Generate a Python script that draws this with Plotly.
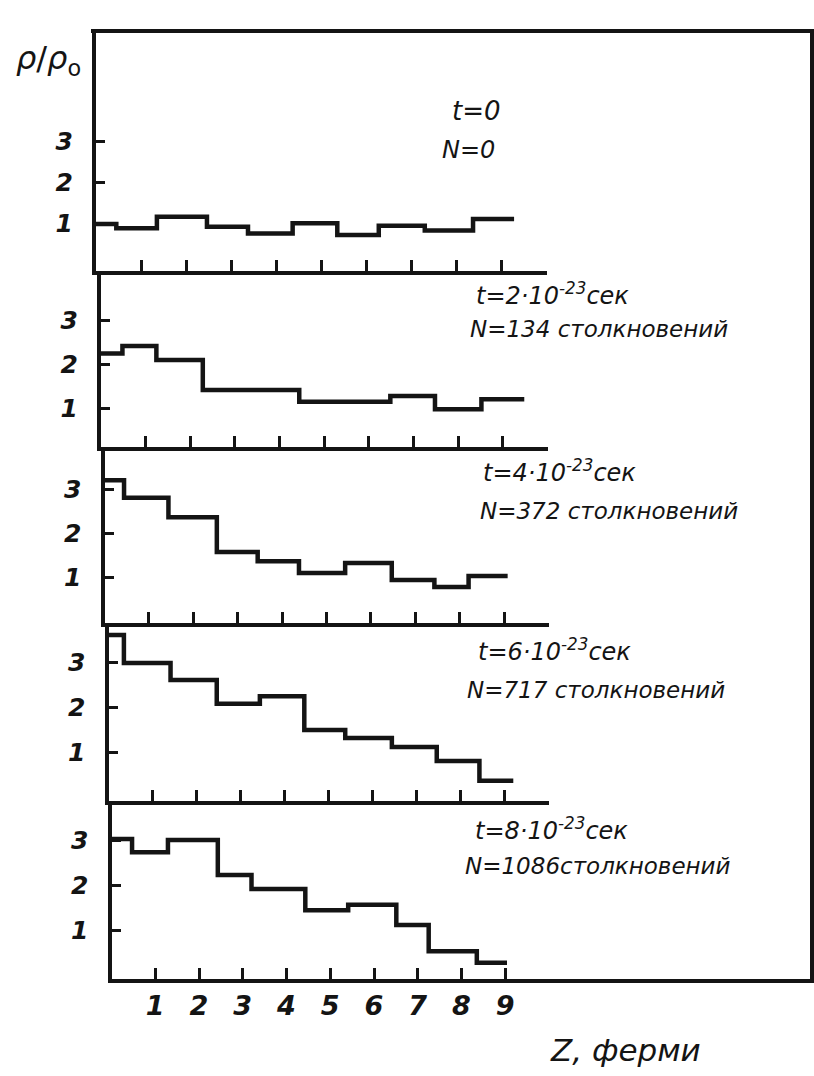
import plotly.graph_objects as go

# ---- data ----
z_edges_1 = [0, 0.45, 1.35, 2.46, 3.37, 4.36, 5.35, 6.27, 7.29, 8.36, 9.27]
rho_1 = [0.98, 0.875, 1.16, 0.91, 0.75, 1.0, 0.71, 0.94, 0.82, 1.10]

z_edges_2 = [0, 0.48, 1.24, 2.28, 4.44, 6.48, 7.48, 8.52, 9.48]
rho_2 = [2.24, 2.41, 2.09, 1.41, 1.14, 1.27, 0.97, 1.20]

z_edges_3 = [0, 0.44, 1.44, 2.53, 3.45, 4.38, 5.42, 6.47, 7.43, 8.2, 9.08]
rho_3 = [3.2, 2.8, 2.36, 1.57, 1.36, 1.09, 1.32, 0.93, 0.77, 1.02]

z_edges_4 = [0, 0.35, 1.41, 2.46, 3.44, 4.45, 5.38, 6.44, 7.46, 8.43, 9.2]
rho_4 = [3.6, 2.98, 2.6, 2.07, 2.24, 1.49, 1.31, 1.11, 0.8, 0.36]

z_edges_5 = [0, 0.47, 1.29, 2.43, 3.2, 4.43, 5.41, 6.51, 7.25, 8.35, 9.04]
rho_5 = [3.02, 2.73, 3.0, 2.22, 1.91, 1.44, 1.56, 1.11, 0.53, 0.27]

z_ticks = [1, 2, 3, 4, 5, 6, 7, 8, 9]
z_ticktext = ["1", "2", "3", "4", "5", "6", "7", "8", "9"]
rho_ticks = [1, 2, 3]
rho_ticktext = ["1", "2", "3"]

time_labels = ["t=0",
               "t=2·10<sup>-23</sup>сек",
               "t=4·10<sup>-23</sup>сек",
               "t=6·10<sup>-23</sup>сек",
               "t=8·10<sup>-23</sup>сек"]
n_labels = ["N=0",
            "N=134 столкновений",
            "N=372 столкновений",
            "N=717 столкновений",
            "N=1086столкновений"]
x_title = "Z, ферми"
y_title = "<i>ρ</i>/<i>ρ</i><sub>o</sub>"

edges = [z_edges_1, z_edges_2, z_edges_3, z_edges_4, z_edges_5]
values = [rho_1, rho_2, rho_3, rho_4, rho_5]

# ---- layout geometry (pixels) ----
W, H = 814, 1076
INK = "#141414"
FONT = "DejaVu Sans"

panel_px = [(33, 271), (271, 447), (447, 623), (623, 801), (801, 979)]
panel_y0 = [264, 452, 621, 797, 975]      # pixel row of rho = 0
panel_ppu = [40.8, 44, 44, 45, 45]        # pixels per rho unit
panel_x0 = [96, 101, 104.5, 108.5, 111.5]  # pixel column of z = 0
panel_xu = [45.1, 44.65, 44.4, 44.0, 43.75]  # pixels per fermi

t_pos = [(450, 111), (474, 294), (481, 471), (476, 650), (473, 829)]
n_pos = [(440, 150), (468, 329), (478, 511), (465, 690), (463, 866)]
t_size = [26, 24, 24, 24, 24]
n_size = [24, 23, 23, 23, 23]

fig = go.Figure()
layout = dict(
    width=W, height=H,
    margin=dict(l=0, r=0, t=0, b=0),
    paper_bgcolor="white", plot_bgcolor="rgba(0,0,0,0)",
    showlegend=False,
    font=dict(family=FONT, color=INK, size=20),
)

annotations = []
for k in range(5):
    i = k + 1
    top, bot = panel_px[k]
    y0, ppu = panel_y0[k], panel_ppu[k]
    x0, xu = panel_x0[k], panel_xu[k]
    ydom = [1 - bot / H, 1 - top / H]
    yr = [(y0 - bot) / ppu, (y0 - top) / ppu]
    if k < 4:
        xr = [0, 10]
        xdom = [x0 / W, (x0 + 10 * xu) / W]
    else:
        xr = [0, (W - x0) / xu]
        xdom = [x0 / W, 1.0]

    e = edges[k]
    v = values[k]
    fig.add_trace(go.Scatter(
        x=e, y=v + [v[-1]], mode="lines",
        line=dict(shape="hv", width=4.5, color=INK),
        xaxis=f"x{i}", yaxis=f"y{i}", hoverinfo="skip",
    ))

    layout[f"xaxis{i}"] = dict(
        domain=xdom, range=xr, anchor=f"y{i}",
        showline=True, linewidth=4, linecolor=INK,
        ticks="inside", ticklen=11, tickwidth=3, tickcolor=INK,
        tickvals=z_ticks, ticktext=z_ticktext,
        showticklabels=(k == 4),
        tickfont=dict(family=FONT, size=27, color=INK, style="italic", weight="bold"),
        ticklabelstandoff=0,
        showgrid=False, zeroline=False, fixedrange=True,
    )
    layout[f"yaxis{i}"] = dict(
        domain=ydom, range=yr, anchor=f"x{i}",
        showline=True, linewidth=4, linecolor=INK,
        ticks="inside", ticklen=9, tickwidth=3, tickcolor=INK,
        tickvals=rho_ticks, ticktext=rho_ticktext,
        tickfont=dict(family=FONT, size=25, color=INK, style="italic", weight="bold"),
        ticklabelstandoff=14,
        showgrid=False, zeroline=False, fixedrange=True,
    )

    tx, ty = t_pos[k]
    nx, ny = n_pos[k]
    annotations.append(dict(
        text=time_labels[k], xref="paper", yref="paper",
        x=tx / W, y=1 - ty / H, xanchor="left", yanchor="middle",
        showarrow=False,
        font=dict(family=FONT, size=t_size[k], color=INK, style="italic"),
    ))
    annotations.append(dict(
        text=n_labels[k], xref="paper", yref="paper",
        x=nx / W, y=1 - ny / H, xanchor="left", yanchor="middle",
        showarrow=False,
        font=dict(family=FONT, size=n_size[k], color=INK, style="italic"),
    ))

# outer frame: top line and right line
layout["xaxis6"] = dict(
    domain=[91 / W, 810 / W], range=[0, 1], anchor="y6", side="top",
    showline=True, linewidth=4, linecolor=INK, ticks="",
    showticklabels=False, showgrid=False, zeroline=False, fixedrange=True,
)
layout["yaxis6"] = dict(
    domain=[1 - 979 / H, 1 - 33 / H], range=[0, 1], anchor="x6", side="right",
    showline=True, linewidth=4, linecolor=INK, ticks="",
    showticklabels=False, showgrid=False, zeroline=False, fixedrange=True,
)
fig.add_trace(go.Scatter(x=[None], y=[None], xaxis="x6", yaxis="y6",
                         mode="lines", hoverinfo="skip"))

annotations.append(dict(
    text=y_title, xref="paper", yref="paper",
    x=14 / W, y=1 - 60 / H, xanchor="left", yanchor="middle",
    showarrow=False, font=dict(family=FONT, size=32, color=INK),
))
annotations.append(dict(
    text=x_title, xref="paper", yref="paper",
    x=548 / W, y=1 - 1050 / H, xanchor="left", yanchor="middle",
    showarrow=False, font=dict(family=FONT, size=31, color=INK, style="italic"),
))
layout["annotations"] = annotations

fig.update_layout(**layout)
fig.write_html("out.html")
